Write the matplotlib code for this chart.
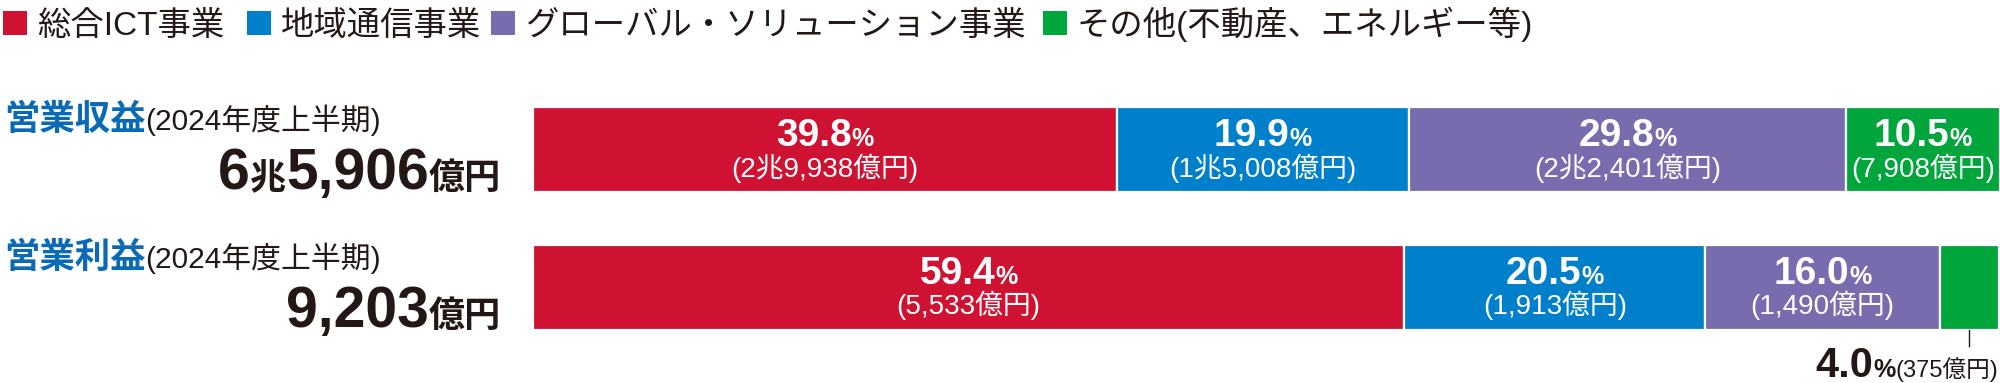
import re
import matplotlib
matplotlib.use('Agg')
import matplotlib.pyplot as plt
import matplotlib.transforms as mtransforms
from matplotlib.patches import Rectangle

# data
categories = ['総合ICT事業', '地域通信事業', 'グローバル・ソリューション事業', 'その他(不動産、エネルギー等)']
colors = ['#cf1232', '#0080cb', '#796cae', '#00a63c']
row_names = ['営業収益', '営業利益']
period = '(2024年度上半期)'
totals = ['6兆5,906', '9,203']
revenue_pct = [39.8, 19.9, 29.8, 10.5]
revenue_amt = ['2兆9,938', '1兆5,008', '2兆2,401', '7,908']
profit_pct = [59.4, 20.5, 16.0, 4.0]
profit_amt = ['5,533', '1,913', '1,490', '375']

FAM = ['Liberation Sans', 'Noto Sans CJK JP']
DARK = '#231815'
TITLE_BLUE = '#0a6ab6'
W, H = 2000, 383

fig = plt.figure(figsize=(W / 100, H / 100), dpi=100)
ident = mtransforms.IdentityTransform()
rend = fig.canvas.get_renderer()


def runs(x, y, parts, ha='left'):
    """parts: (text, size, weight, color); x,y in px from top-left, y = baseline"""
    ts = []
    for s, size, weight, col in parts:
        t = fig.text(0, 0, s, fontsize=size, fontweight=weight, color=col,
                     va='baseline', ha='left', transform=ident, family=FAM)
        ts.append(t)
    ws = [t.get_window_extent(rend).width for t in ts]
    total = sum(ws)
    if ha == 'right':
        start = x - total
    elif ha == 'center':
        start = x - total / 2
    else:
        start = x
    for t, w in zip(ts, ws):
        t.set_position((start, H - y))
        start += w


def split_num(s, big, small, col):
    out = []
    for piece in re.findall(r'[0-9,.]+|[^0-9,.]+', s):
        if re.match(r'[0-9,.]', piece):
            out.append((piece, big, 'bold', col))
        else:
            out.append((piece, small, 'bold', col))
    return out


# legend
leg_sq_x = [3, 247, 491, 1043]
for cat, col, sx in zip(categories, colors, leg_sq_x):
    fig.patches.append(Rectangle((sx, H - 35), 24, 24, transform=ident,
                                 facecolor=col, edgecolor='none'))
    runs(sx + 34, 35, [(cat, 24, 'normal', DARK)])

# bars
ax = fig.add_axes([533 / W, (H - 330) / H, 1467 / W, 223 / H])
ax.set_xlim(0, 100)
ax.set_ylim(1.309, -0.309)
ax.axis('off')
bar_h = 0.618

pct_rows = [revenue_pct, profit_pct]
amt_rows = [revenue_amt, profit_amt]
for r, (pcts, amts) in enumerate(zip(pct_rows, amt_rows)):
    left = 0
    for i, (p, a) in enumerate(zip(pcts, amts)):
        ax.barh(r, p, left=left, height=bar_h, color=colors[i],
                edgecolor='white', linewidth=1.6)
        cx = ax.transData.transform((left + p / 2, r))[0]
        dy = r * 137.5
        if p >= 8:
            runs(cx, 146 + dy, [(f'{p:.1f}', 28, 'bold', 'white'),
                                ('%', 18, 'bold', 'white')], ha='center')
            runs(cx, 177 + dy, [(f'({a}億円)', 20, 'normal', 'white')], ha='center')
        else:
            bot = H - ax.transData.transform((0, r + bar_h / 2))[1]
            fig.lines.append(plt.Line2D([cx, cx], [H - bot, H - bot - 16],
                                        transform=ident, color=DARK, lw=1))
            runs(1998, 377, [(f'{p:.1f}', 30, 'bold', DARK),
                             ('%', 18, 'bold', DARK),
                             (f'({a}億円)', 17, 'normal', DARK)], ha='right')
        left += p

# row titles and totals
for r, (name, tot) in enumerate(zip(row_names, totals)):
    dy = r * 137.5
    runs(4, 130 + dy, [(name, 25.5, 'bold', TITLE_BLUE),
                       (period, 21.5, 'normal', DARK)])
    runs(501, 189 + dy, split_num(tot, 41, 26, DARK) + [('億円', 26, 'bold', DARK)],
         ha='right')

fig.savefig('out.png', dpi=100)
